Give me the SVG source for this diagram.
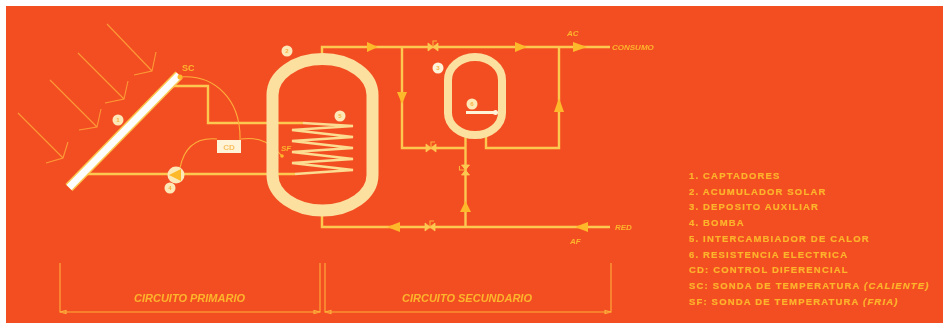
<svg xmlns="http://www.w3.org/2000/svg" width="943" height="323" viewBox="0 0 943 323">
<style>
.p{fill:none;stroke:#fdc850;stroke-width:2.4}
.co{fill:none;stroke:#fbdc90;stroke-width:2.6}
.t{fill:none;stroke:#fdb03a;stroke-width:1.1}
.r{fill:none;stroke:#fd9a35;stroke-width:1.1}
.a{fill:#fdb92c}
.tank{fill:none;stroke:#fbe0a0}
.n{fill:#fde8b8}
.nt{font:bold 6px "Liberation Sans",sans-serif;fill:#f9b040;text-anchor:middle}
.c{font:italic bold 8px "Liberation Sans",sans-serif;fill:#fdb52c}
.k{font:italic bold 11px "Liberation Sans",sans-serif;fill:#fdb52c}
.l{font:bold 9.5px "Liberation Sans",sans-serif;fill:#fdb52c;letter-spacing:1.17px;stroke:#fdb52c;stroke-width:.2}
.v{fill:#fdc850;stroke:#fdc850;stroke-width:.8}
</style>
<defs>
<g id="vh"><path class="v" d="M-5,-4V4L0,0ZM5,-4V4L0,0Z"/><path class="t" d="M0,0V-6H4"/></g>
<filter id="b" x="-2%" y="-2%" width="104%" height="104%"><feGaussianBlur stdDeviation="0.45"/></filter>
</defs>
<rect width="943" height="323" fill="#fff"/>
<rect x="6" y="6" width="937" height="317" fill="#f34e22"/>
<g filter="url(#b)">
<g id="connectors">
<path class="r" d="M18,113L63,158M68,142L63,158L46,163M50,80L97,127M101,109L97,127L79,130M78,53L124,99M128,81L124,99L105,103M107,24L152,71M156,52L152,71L134,75"/>
<path class="p" d="M170,86H208V123H303M82,174H295"/>
<path class="co" d="M303,123L353,126L292,130L353,137L292,141L353,148L292,152L353,159L292,163L353,170L295,174"/>
<path class="p" d="M322,53V47H610M402,47V148H465M465.500,137V227M322,216V227H610M559,47V148H486V137"/>
<path class="t" d="M180,77C215,74 241,100 240,140M180,168C184,148 195,137 217,139M241,139C262,136 272,145 282,156"/>
<path class="a" d="M367,42L378,47L367,52ZM515,42L527,47L515,52ZM573,42L587,47L573,52ZM397,92L402,104L407,92ZM554,112L559,98L564,112ZM460,212L465.500,201L471,212ZM400,222L387,227L400,232ZM588,222L575,227L588,232Z"/>
<use href="#vh" x="433" y="47"/>
<use href="#vh" x="431" y="148"/>
<use href="#vh" x="430" y="227"/>
<g transform="translate(465.500,170) rotate(90)"><path class="v" d="M-5,-4V4L0,0ZM5,-4V4L0,0Z"/><path class="t" d="M0,0V6H-4"/></g>
<path class="t" d="M60,263V312H320V263M325,263V312H611V263"/>
<path class="t" d="M60,312L66,310.500V313.500ZM320,312L314,310.500V313.500ZM325,312L331,310.500V313.500ZM611,312L605,310.500V313.500Z"/>
</g>
<g id="collector">
<path d="M69,187.500L179,75" stroke="#fdc850" stroke-width="10" fill="none"/>
<path d="M69,187.500L179,75" stroke="#fff" stroke-width="7" fill="none"/>
<circle cx="180" cy="77" r="2.500" fill="#fdb92c"/>
<circle cx="118" cy="120" r="5.500" class="n"/><text x="118" y="122" class="nt">1</text>
<text x="182" y="71" class="c" style="font-size:9px;font-style:normal">SC</text>
</g>
<g id="acumulador">
<path class="tank" stroke-width="12" d="M272.500,95A50,36 0 0 1 372.500,95V175A50,35.500 0 0 1 272.500,175Z"/>
<circle cx="287" cy="51" r="5.500" class="n"/><text x="287" y="53" class="nt">2</text>
<circle cx="340" cy="116" r="5.500" class="n"/><text x="340" y="118" class="nt">5</text>
</g>
<g id="auxiliar">
<path class="tank" stroke-width="8" d="M448,80A27,23 0 0 1 502,80V113A27,22 0 0 1 448,113Z"/>
<path d="M466,112.500H496" stroke="#fff3d8" stroke-width="3"/>
<circle cx="495.500" cy="112.500" r="2.500" fill="#fff3d8"/>
<circle cx="472" cy="104" r="5.500" class="n"/><text x="472" y="106" class="nt">6</text>
<circle cx="438" cy="68" r="5.500" fill="#fff3d8"/><text x="438" y="70" class="nt">3</text>
</g>
<g id="bomba">
<circle cx="176" cy="175" r="8.500" fill="#fde8b8"/>
<path d="M169,175L181,169V181Z" fill="#fdb92c"/>
<circle cx="170" cy="188" r="5.500" class="n"/><text x="170" y="190" class="nt">4</text>
</g>
<g id="cd">
<rect x="217" y="140" width="24" height="13" fill="#fff3d8"/>
<text x="229" y="150" text-anchor="middle" style="font:bold 8px 'Liberation Sans',sans-serif;fill:#f9c060">CD</text>
</g>
<g id="sf">
<circle cx="282" cy="156" r="1.800" fill="#fdb92c"/>
<text x="281" y="151" class="c">SF</text>
</g>
<g id="labels">
<text x="567" y="36" class="c">AC</text>
<text x="612" y="50" class="c">CONSUMO</text>
<text x="615" y="230" class="c">RED</text>
<text x="570" y="244" class="c">AF</text>
<text x="134" y="302" class="k">CIRCUITO PRIMARIO</text>
<text x="402" y="302" class="k">CIRCUITO SECUNDARIO</text>
</g>
<g id="legend">
<text x="689" y="178.500" class="l">1. CAPTADORES</text>
<text x="689" y="194.500" class="l">2. ACUMULADOR SOLAR</text>
<text x="689" y="210" class="l">3. DEPOSITO AUXILIAR</text>
<text x="689" y="226" class="l">4. BOMBA</text>
<text x="689" y="241.500" class="l">5. INTERCAMBIADOR DE CALOR</text>
<text x="689" y="257.500" class="l">6. RESISTENCIA ELECTRICA</text>
<text x="689" y="273" class="l">CD: CONTROL DIFERENCIAL</text>
<text x="689" y="289" class="l">SC: SONDA DE TEMPERATURA <tspan font-style="italic">(CALIENTE)</tspan></text>
<text x="689" y="304.500" class="l">SF: SONDA DE TEMPERATURA <tspan font-style="italic">(FRIA)</tspan></text>
</g>
</g>
</svg>
